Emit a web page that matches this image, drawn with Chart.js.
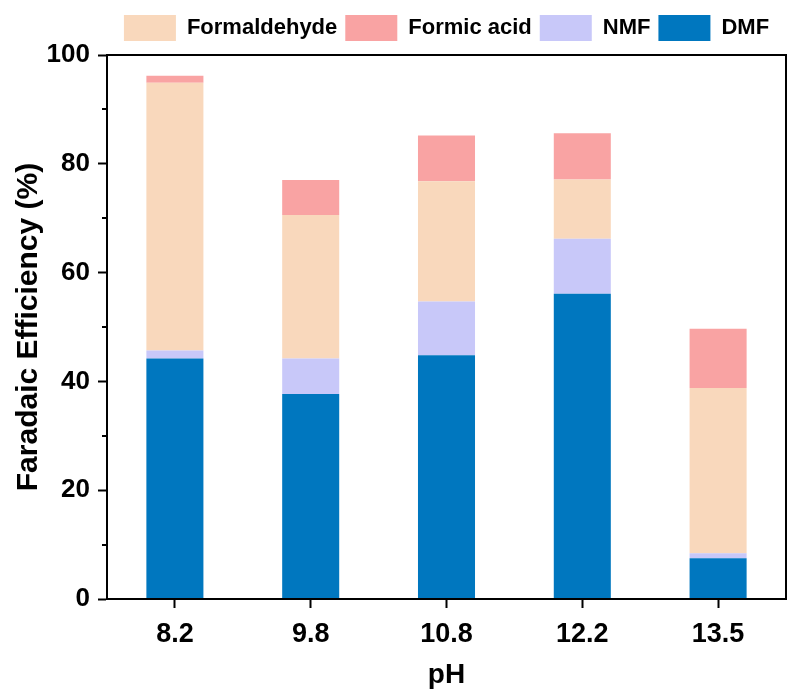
<!DOCTYPE html>
<html>
<head>
<meta charset="utf-8">
<script src="https://cdn.jsdelivr.net/npm/chart.js@4.4.1/dist/chart.umd.min.js"></script>
<style>
  html, body { margin: 0; padding: 0; background: #fff; }
  #wrap { width: 788px; height: 695px; }
</style>
</head>
<body>
<div id="wrap"><canvas id="chart"></canvas></div>
<script>
// pH categories and stacked faradaic efficiencies (%), bottom to top
const phLabels = ['8.2', '9.8', '10.8', '12.2', '13.5'];
const dmf = [44.2, 37.7, 44.8, 56.1, 7.5];
const nmf = [1.5, 6.5, 9.9, 10.1, 0.9];
const formaldehyde = [49.2, 26.4, 22.1, 10.9, 30.4];
const formicAcid = [1.3, 6.4, 8.4, 8.5, 10.9];
const minorTicks = [10, 30, 50, 70, 90];
const legendOrder = ['Formaldehyde', 'Formic acid', 'NMF', 'DMF'];

const FONT = '"Liberation Sans", Arial, sans-serif';

// box around the plot + short minor ticks on the y axis
const framePlugin = {
    id: 'frame',
    beforeInit(chart) {
        // a little extra room under the legend
        const fit = chart.legend.fit;
        chart.legend.fit = function () {
            fit.call(this);
            this.height += 4;
        };
    },
    afterDraw(chart) {
        const { ctx, chartArea: a, scales } = chart;
        ctx.save();
        ctx.strokeStyle = '#000';
        ctx.lineWidth = 2;
        ctx.strokeRect(a.left, a.top, a.right - a.left, a.bottom - a.top);
        minorTicks.forEach(v => {
            const y = Math.round(scales.y.getPixelForValue(v));
            ctx.beginPath();
            ctx.moveTo(a.left, y);
            ctx.lineTo(a.left - 5, y);
            ctx.stroke();
        });
        ctx.restore();
    }
};

new Chart(document.getElementById('chart'), {
    type: 'bar',
    data: {
        labels: phLabels,
        datasets: [
            { label: 'DMF', data: dmf, backgroundColor: '#0077bf' },
            { label: 'NMF', data: nmf, backgroundColor: '#c8c8f9' },
            { label: 'Formaldehyde', data: formaldehyde, backgroundColor: '#f9d8bc' },
            { label: 'Formic acid', data: formicAcid, backgroundColor: '#f9a3a3' }
        ]
    },
    options: {
        responsive: true,
        maintainAspectRatio: false,
        animation: false,
        datasets: { bar: { categoryPercentage: 1, barPercentage: 0.42, borderWidth: 0 } },
        layout: { padding: { left: 0, right: 2, top: 7, bottom: 0 } },
        plugins: {
            legend: {
                position: 'top',
                fullSize: false,
                labels: {
                    boxWidth: 52,
                    boxHeight: 26,
                    padding: 8,
                    color: '#000',
                    font: { family: FONT, size: 22, weight: 'bold' },
                    sort: (a, b) => legendOrder.indexOf(a.text) - legendOrder.indexOf(b.text)
                }
            },
            tooltip: { enabled: false }
        },
        scales: {
            x: {
                stacked: true,
                afterFit: s => { s.height = 96; },
                border: { color: '#000', width: 2 },
                grid: { offset: false, drawOnChartArea: false, drawTicks: true, tickLength: 9, tickWidth: 2, tickColor: '#000' },
                ticks: { color: '#000', padding: 10, font: { family: FONT, size: 27, weight: 'bold' } },
                title: { display: true, text: 'pH', color: '#000', padding: { top: 0, bottom: 3 }, font: { family: FONT, size: 28, weight: 'bold' } }
            },
            y: {
                stacked: true,
                min: 0,
                max: 100,
                afterFit: s => { s.width = 107; },
                border: { color: '#000', width: 2 },
                grid: { drawOnChartArea: false, drawTicks: true, tickLength: 9, tickWidth: 2, tickColor: '#000' },
                ticks: { stepSize: 20, color: '#000', padding: 8, font: { family: FONT, size: 26, weight: 'bold' } },
                title: { display: true, text: 'Faradaic Efficiency (%)', color: '#000', padding: { top: 11, bottom: 0 }, font: { family: FONT, size: 30, weight: 'bold' } }
            }
        }
    },
    plugins: [framePlugin]
});
</script>
</body>
</html>
